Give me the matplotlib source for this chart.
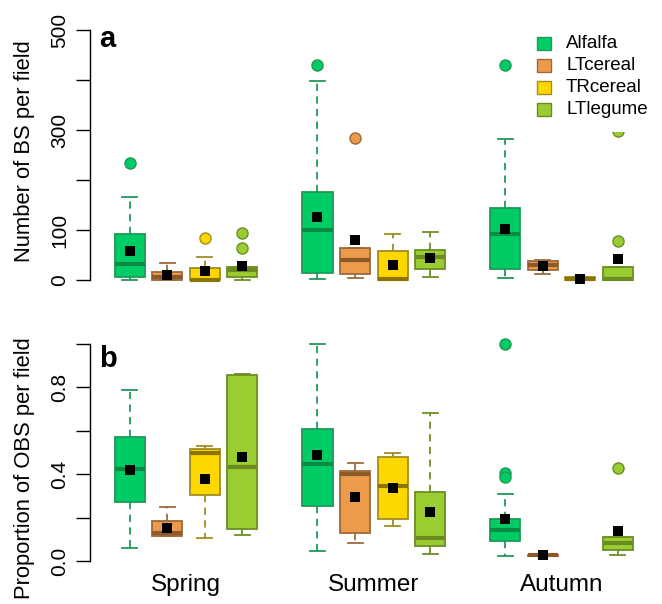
import numpy as np
import matplotlib
matplotlib.use("Agg")
import matplotlib.pyplot as plt
from matplotlib.patches import Rectangle

plt.rcParams['font.family'] = ['Liberation Sans', 'DejaVu Sans']

# ---------------- data ----------------
crops = ["Alfalfa", "LTcereal", "TRcereal", "LTlegume"]
seasons = ["Spring", "Summer", "Autumn"]

# Panel a: Number of BS per field (order: season x crop)
a_whislo = [0, 0, 0, 1,     2, 5, 0, 6,      5, 12, 0, 0]
a_q1     = [7, 1, 0, 7,     15, 12, 1, 22,   22, 21, 0, 0]
a_med    = [33, 6, 1, 20,   101, 41, 3, 46,  93, 30, 2, 3]
a_q3     = [93, 16, 25, 26, 177, 65, 58, 61, 145, 39, 7, 27]
a_whishi = [167, 35, 47, 26, 398, 65, 92, 96, 282, 40, 7, 27]
a_mean   = [59, 11, 18, 28, 127, 81, 31, 45, 103, 29, 3, 43]
a_fliers = [[235], [], [85], [95, 65], [431], [284], [], [], [431], [], [], [298, 78]]

# Panel b: Proportion of OBS per field (None = no data)
b_whislo = [0.061, 0.115, 0.105, 0.121, 0.048, 0.085, 0.163, 0.031, 0.023, 0.022, None, 0.026]
b_q1     = [0.272, 0.117, 0.304, 0.146, 0.255, 0.128, 0.195, 0.069, 0.094, 0.024, None, 0.051]
b_med    = [0.423, 0.129, 0.499, 0.435, 0.447, 0.401, 0.344, 0.108, 0.143, 0.026, None, 0.084]
b_q3     = [0.571, 0.186, 0.516, 0.857, 0.610, 0.415, 0.479, 0.316, 0.192, 0.028, None, 0.111]
b_whishi = [0.787, 0.250, 0.530, 0.863, 1.000, 0.452, 0.499, 0.684, 0.309, 0.030, None, 0.111]
b_mean   = [0.419, 0.154, 0.378, 0.481, 0.487, 0.296, 0.338, 0.227, 0.192, 0.026, None, 0.140]
b_fliers = [[], [], [], [], [], [], [], [], [1.0, 0.404, 0.386], [], [], [0.429]]

positions = [1, 2, 3, 4, 6, 7, 8, 9, 11, 12, 13, 14]
season_pos = [2.5, 7.5, 12.5]

fill_cols = ["#00CC66", "#EE9A4D", "#FFD700", "#9ACD32"]
edge_cols = ["#1F9A58", "#9C6A3A", "#A08C20", "#6B8E23"]
med_cols = ["#0B8A45", "#8B5A2B", "#8B7500", "#6B8A22"]

W, H = 662, 604
fig = plt.figure(figsize=(W / 100, H / 100), dpi=100)


def ax_at(x0, y0, x1, y1):
    return fig.add_axes([x0 / W, 1 - y1 / H, (x1 - x0) / W, (y1 - y0) / H])


def draw_panel(ax, whislo, q1, med, q3, whishi, mean, fliers):
    for i in range(len(positions)):
        if med[i] is None:
            continue
        c = i % 4
        st = dict(whislo=whislo[i], q1=q1[i], med=med[i], q3=q3[i],
                  whishi=whishi[i], fliers=[])
        ax.bxp([st], positions=[positions[i]], widths=0.8, capwidths=0.4,
               patch_artist=True, showfliers=False, manage_ticks=False,
               boxprops=dict(facecolor=fill_cols[c], edgecolor=edge_cols[c], linewidth=1.3),
               whiskerprops=dict(color=edge_cols[c], linewidth=1.3, linestyle=(0, (4, 3))),
               capprops=dict(color=edge_cols[c], linewidth=1.3),
               medianprops=dict(color=med_cols[c], linewidth=3.0, solid_capstyle='butt'))
        if fliers[i]:
            ax.plot([positions[i]] * len(fliers[i]), fliers[i], 'o', ms=8,
                    mfc=fill_cols[c], mec=edge_cols[c], mew=1.0, zorder=3)
        ax.plot([positions[i]], [mean[i]], 's', ms=7.6, color='black', mew=0, zorder=5)
    ax.set_xlim(-0.06, 15.06)
    for s in ['top', 'right', 'bottom']:
        ax.spines[s].set_visible(False)
    ax.spines['left'].set_linewidth(1.0)
    ax.tick_params(axis='y', length=10, width=1.0, pad=5, labelsize=15)
    for lab in ax.get_yticklabels():
        lab.set_rotation(90)
        lab.set_va('center')


# Panel a
ax1 = ax_at(90, 20, 657.6, 290)
draw_panel(ax1, a_whislo, a_q1, a_med, a_q3, a_whishi, a_mean, a_fliers)
ax1.set_ylim(-20, 520)
ax1.spines['left'].set_bounds(0, 500)
ax1.set_yticks([0, 100, 200, 300, 400, 500])
ax1.set_yticklabels(['0', '100', '', '300', '', '500'], rotation=90, va='center')
ax1.set_xticks([])

# Panel b
ax2 = ax_at(90, 335.3, 657.6, 569.7)
draw_panel(ax2, b_whislo, b_q1, b_med, b_q3, b_whishi, b_mean, b_fliers)
ax2.set_ylim(-0.04, 1.04)
ax2.spines['left'].set_bounds(0, 1)
ax2.set_yticks([0, 0.2, 0.4, 0.6, 0.8, 1.0])
ax2.set_yticklabels(['0.0', '', '0.4', '', '0.8', ''], rotation=90, va='center')
ax2.set_xticks(season_pos)
ax2.set_xticklabels(seasons, fontsize=17.5)
ax2.tick_params(axis='x', length=0, pad=3)

# y labels
fig.text(25 / W, 1 - 151 / H, "Number of BS per field", rotation=90,
         ha='center', va='center', fontsize=15.8)
fig.text(25 / W, 1 - 468 / H, "Proportion of OBS per field", rotation=90,
         ha='center', va='center', fontsize=15.8)

# panel letters
fig.text(99 / W, 1 - 47 / H, "a", fontsize=21, fontweight='bold', ha='left', va='baseline')
fig.text(99 / W, 1 - 367 / H, "b", fontsize=21, fontweight='bold', ha='left', va='baseline')

# legend (manual, white background)
bg = Rectangle((527 / W, 1 - 131.5 / H), (W - 527) / W, 106 / H, transform=fig.transFigure,
               facecolor='white', edgecolor='none', zorder=10)
fig.patches.append(bg)
rows_y = [43, 65, 87, 109]
for k, name in enumerate(crops):
    y = rows_y[k]
    sq = Rectangle((536.5 / W, 1 - (y + 6.5) / H), 14 / W, 12.5 / H, transform=fig.transFigure,
                   facecolor=fill_cols[k], edgecolor=edge_cols[k], linewidth=1.0, zorder=11)
    fig.patches.append(sq)
    fig.text(566 / W, 1 - y / H, name, fontsize=13.5, ha='left', va='center', zorder=12)

fig.savefig("out.png", dpi=100)
